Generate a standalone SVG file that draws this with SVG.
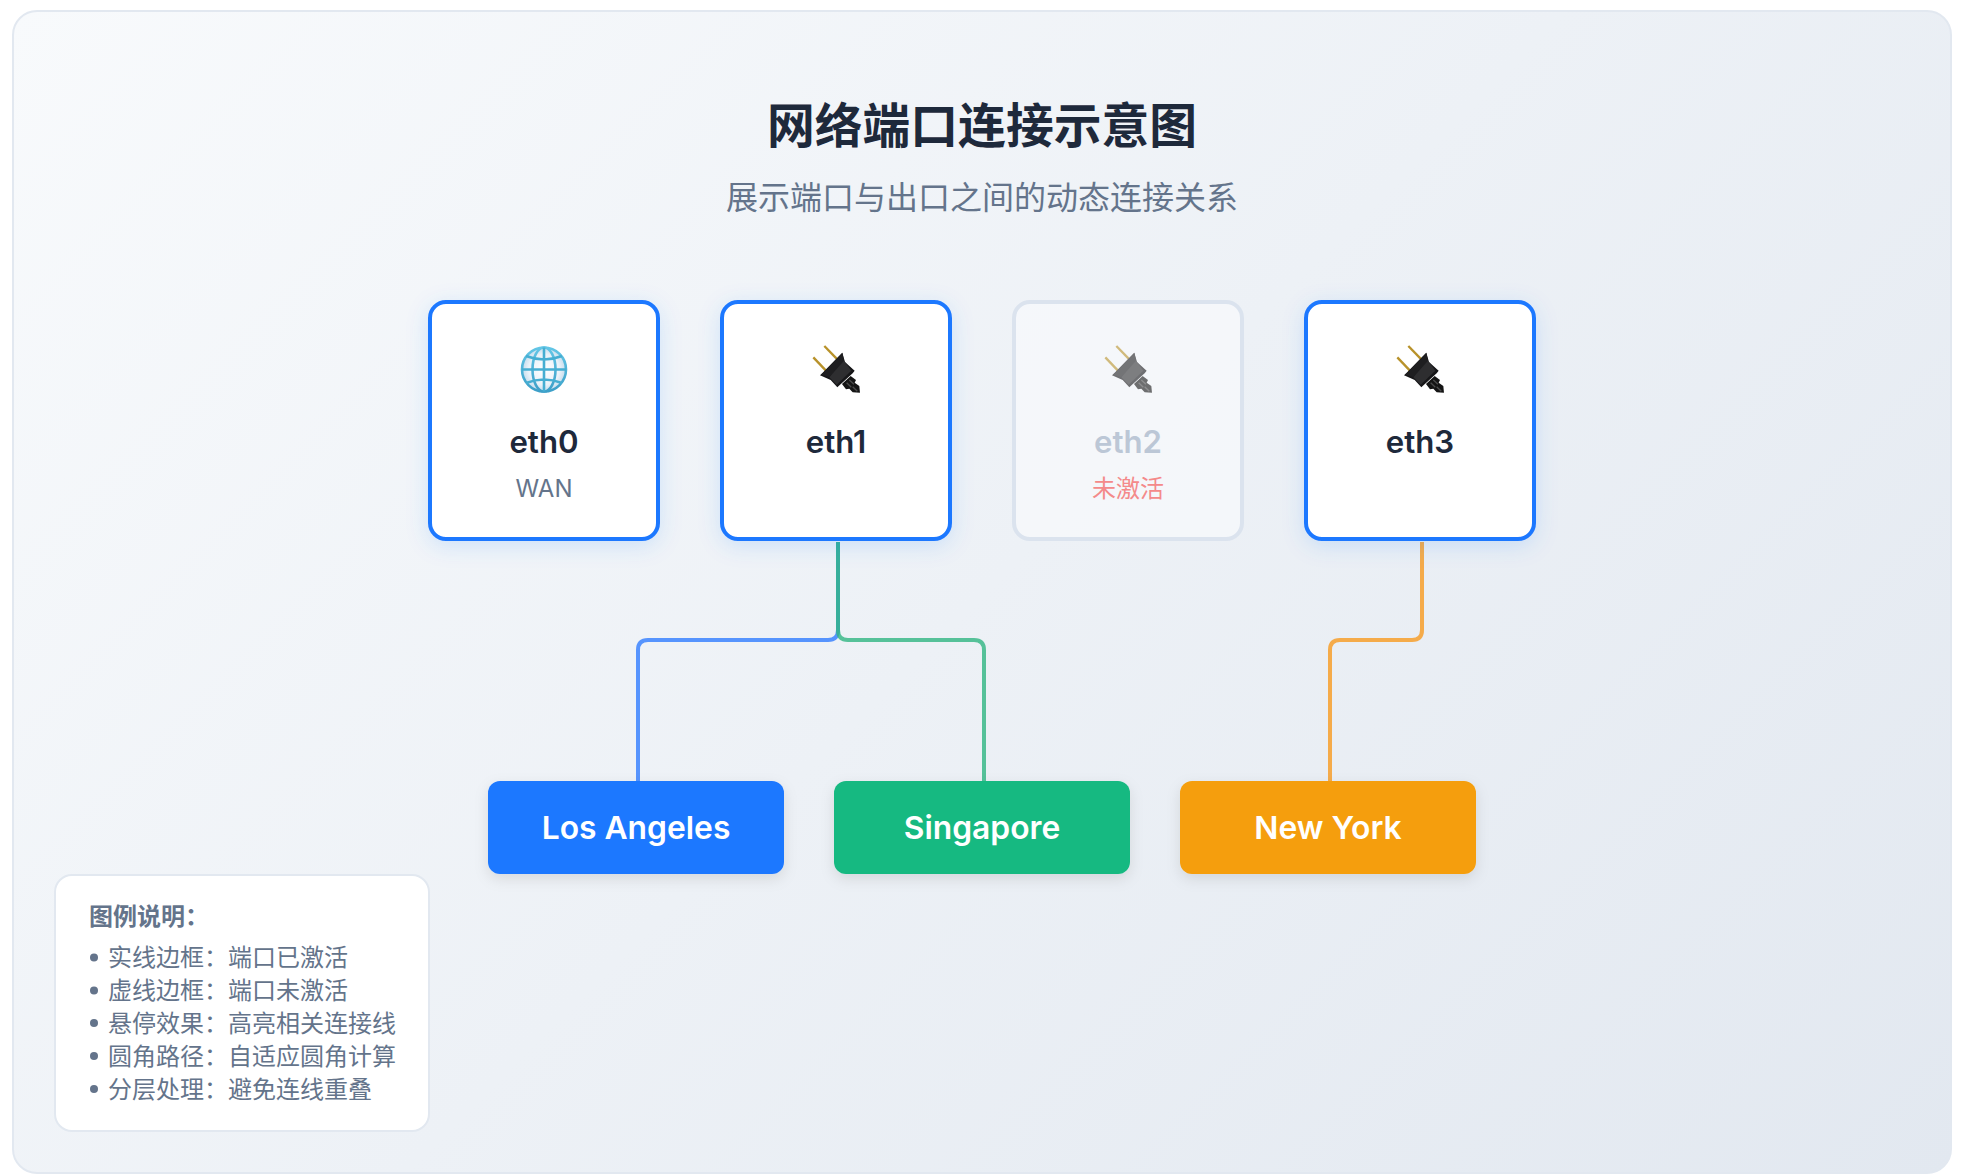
<svg xmlns="http://www.w3.org/2000/svg" xmlns:xlink="http://www.w3.org/1999/xlink" width="1964" height="1174" viewBox="0 0 1964 1174">
<style>
text{font-family:"Inter","Noto Sans CJK SC","Liberation Sans",sans-serif;text-anchor:middle}
.cjk{font-family:"Noto Sans CJK SC","Noto Sans",sans-serif}
.port{fill:#fff;stroke:#1f78ff;stroke-width:4;filter:url(#portShadow)}
.name{font-size:31.2px;font-weight:600;fill:#1e293b}
.sub{font-size:24px;fill:#64748b}
.target{filter:url(#targetShadow)}
.tname{font-size:31.8px;font-weight:600;fill:#fff}
.link{fill:none;stroke-width:4;stroke-opacity:.8}
.lg{font-size:24px;fill:#64748b;text-anchor:start}
.bullet{fill:#64748b}
</style>
<defs>
<linearGradient id="bg" gradientUnits="userSpaceOnUse" x1="206" y1="-184" x2="1758" y2="1368"><stop offset="0" stop-color="#f8fafc"/><stop offset="1" stop-color="#e2e8f0"/></linearGradient>
<linearGradient id="globeLine" x1="0" y1="0" x2="0" y2="1"><stop offset="0" stop-color="#63c6e6"/><stop offset="1" stop-color="#3d9fc8"/></linearGradient>
<radialGradient id="globeFill"><stop offset="0" stop-color="#ffffff"/><stop offset="0.7" stop-color="#eaf2f9"/><stop offset="1" stop-color="#c4dcec"/></radialGradient>
<filter id="portShadow" x="-20%" y="-20%" width="140%" height="140%"><feDropShadow dx="0" dy="5" stdDeviation="11" flood-color="#1f78ff" flood-opacity="0.15"/></filter>
<filter id="targetShadow" x="-20%" y="-30%" width="140%" height="170%"><feDropShadow dx="0" dy="5" stdDeviation="7" flood-color="#000" flood-opacity="0.1"/></filter>
<g id="plug">
<line x1="133" y1="48" x2="172" y2="88" stroke="#b8922a" stroke-width="7"/>
<line x1="100" y1="82" x2="140" y2="124" stroke="#b8922a" stroke-width="7"/>
<path d="M212 138L228 150L224 158L238 168L240 188L218 187L208 176L198 178L186 162Z" fill="#141414"/>
<path d="M208 150L222 163M200 158L214 172M218 170L232 184" stroke="#4a4a4a" stroke-width="4" fill="none"/>
<path d="M187 68L195 96L224 122L218 130L172 172L152 150L120 136L128 128Z" fill="#161618"/>
<path d="M188 86L214 122L170 164L148 142Z" fill="#2e2e30"/>
<path d="M187 68L192 92L148 142L124 134Z" fill="#1e1e20"/>
</g>
</defs>
<rect x="13" y="11" width="1938" height="1162" rx="24" fill="url(#bg)" stroke="#e2e8f0" stroke-width="2"/>
<text class="cjk" x="982" y="143" font-size="47.8" font-weight="700" fill="#1e293b">网络端口连接示意图</text>
<text class="cjk" x="982" y="209" font-size="32" fill="#64748b">展示端口与出口之间的动态连接关系</text>
<g id="connectors">
<path class="link" stroke="#2f7cff" d="M838 542V630Q838 640 828 640H648Q638 640 638 650V781"/>
<path class="link" stroke="#2fb582" d="M838 542V630Q838 640 848 640H974Q984 640 984 650V781"/>
<path class="link" stroke="#f79a1f" d="M1422 542V630Q1422 640 1412 640H1340Q1330 640 1330 650V781"/>
</g>
<g id="eth0">
<rect class="port" x="430" y="302" width="228" height="237" rx="16"/>
<g fill="none" stroke="url(#globeLine)" stroke-width="2.6">
<circle cx="544" cy="369.500" r="22" fill="url(#globeFill)"/>
<ellipse cx="544" cy="369.500" rx="11.500" ry="22"/>
<path d="M544 347.500V391.500M522 369.500H566M526 356Q544 363 562 356M526 383Q544 376 562 383" stroke="#46aed2" stroke-width="2.600"/>
</g>
<text class="name" x="544" y="453">eth0</text>
<text class="sub" x="544" y="497">WAN</text>
</g>
<g id="eth1">
<rect class="port" x="722" y="302" width="228" height="237" rx="16"/>
<use xlink:href="#plug" href="#plug" transform="translate(780 330) scale(.3333)"/>
<text class="name" x="836" y="453">eth1</text>
</g>
<g id="eth2">
<rect x="1014" y="302" width="228" height="237" rx="16" fill="#f8fafc" fill-opacity="0.7" stroke="#dbe3ee" stroke-width="4"/>
<use xlink:href="#plug" href="#plug" opacity="0.6" transform="translate(1072 330) scale(.3333)"/>
<text class="name" x="1128" y="453" style="fill:#bcc7d6">eth2</text>
<text class="sub cjk" x="1128" y="497" style="fill:#f48a8a">未激活</text>
</g>
<g id="eth3">
<rect class="port" x="1306" y="302" width="228" height="237" rx="16"/>
<use xlink:href="#plug" href="#plug" transform="translate(1364 330) scale(.3333)"/>
<text class="name" x="1420" y="453">eth3</text>
</g>
<g id="la">
<rect class="target" x="488" y="781" width="296" height="93" rx="12" fill="#1f78ff"/>
<text class="tname" x="636" y="839">Los Angeles</text>
</g>
<g id="sg">
<rect class="target" x="834" y="781" width="296" height="93" rx="12" fill="#18b981"/>
<text class="tname" x="982" y="839">Singapore</text>
</g>
<g id="ny">
<rect class="target" x="1180" y="781" width="296" height="93" rx="12" fill="#f59e0b"/>
<text class="tname" x="1328" y="839">New York</text>
</g>
<g id="legend">
<rect x="55" y="875" width="374" height="256" rx="17" fill="#fff" stroke="#e2e8f0" stroke-width="2"/>
<text class="lg cjk" x="89" y="925" font-weight="700">图例说明：</text>
<circle class="bullet" cx="94" cy="957.500" r="4"/><text class="lg cjk" x="108" y="966">实线边框：端口已激活</text>
<circle class="bullet" cx="94" cy="990.500" r="4"/><text class="lg cjk" x="108" y="999">虚线边框：端口未激活</text>
<circle class="bullet" cx="94" cy="1023" r="4"/><text class="lg cjk" x="108" y="1032">悬停效果：高亮相关连接线</text>
<circle class="bullet" cx="94" cy="1056" r="4"/><text class="lg cjk" x="108" y="1065">圆角路径：自适应圆角计算</text>
<circle class="bullet" cx="94" cy="1089" r="4"/><text class="lg cjk" x="108" y="1098">分层处理：避免连线重叠</text>
</g>
</svg>
